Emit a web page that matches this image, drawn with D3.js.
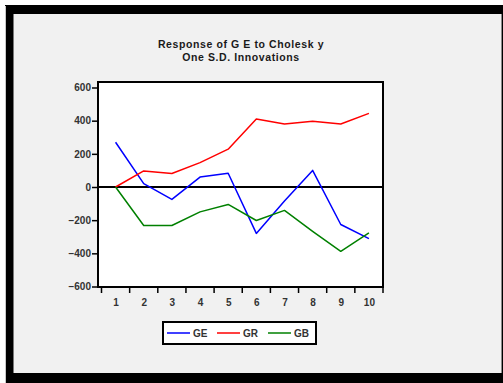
<!DOCTYPE html>
<html>
<head>
<meta charset="utf-8">
<script src="https://cdn.jsdelivr.net/npm/d3@7"></script>
<style>
  html, body { margin: 0; padding: 0; background: #ffffff; }
  svg { display: block; font-family: "Liberation Sans", Arial, sans-serif; }
</style>
</head>
<body>
<svg id="chart" width="503" height="383"></svg>
<script>
// Impulse responses of GE to one S.D. shocks (Cholesky), periods 1..10
const periods = [1, 2, 3, 4, 5, 6, 7, 8, 9, 10];
const seriesNames = ["GE", "GR", "GB"];
const seriesColors = ["#0000ff", "#ff0000", "#008000"];
const geValues = [270, 20, -75, 60, 83, -280, -85, 100, -226, -311];
const grValues = [0, 97, 81, 147, 228, 410, 380, 396, 380, 444];
const gbValues = [0, -232, -232, -150, -105, -202, -141, -267, -388, -277];
const yTicks = [-600, -400, -200, 0, 200, 400, 600];
const titleLines = ["Response of G E to Cholesk y", "One S.D. Innovations"];

const seriesValues = [geValues, grValues, gbValues];

const svg = d3.select("#chart");

// window frame
svg.append("rect").attr("x", 0).attr("y", 0).attr("width", 503).attr("height", 383).attr("fill", "#ffffff");
svg.append("rect").attr("x", 5).attr("y", 5).attr("width", 498).attr("height", 378).attr("fill", "#000000");
svg.append("line").attr("x1", 5.5).attr("x2", 5.5).attr("y1", 6).attr("y2", 383).attr("stroke", "#c8c8c8").attr("stroke-width", 1);
svg.append("rect").attr("x", 13.5).attr("y", 14).attr("width", 488).attr("height", 359).attr("fill", "#f1f1f1");
svg.append("line").attr("x1", 501.5).attr("x2", 501.5).attr("y1", 14).attr("y2", 373).attr("stroke", "#8a8a8a").attr("stroke-width", 1);

// plot box
const box = { left: 98, right: 383, top: 82, bottom: 287 };

const x = d3.scaleLinear().domain([0.5, 10.5]).range([101.5, 383]);
const y = d3.scaleLinear().domain([-600, 600]).range([286.5, 87.5]);

svg.append("rect")
  .attr("x", box.left).attr("y", box.top)
  .attr("width", box.right - box.left).attr("height", box.bottom - box.top)
  .attr("fill", "#ffffff");

// title
const title = svg.append("text")
  .attr("x", 241).attr("y", 48)
  .attr("text-anchor", "middle")
  .attr("font-size", "10.5px").attr("font-weight", "bold")
  .attr("letter-spacing", "0.6px").attr("fill", "#1a1a1a");
titleLines.forEach((t, i) => {
  title.append("tspan").attr("x", 241).attr("dy", i === 0 ? 0 : 13).text(t);
});

// y axis
const yAxis = d3.axisLeft(y).tickValues(yTicks).tickSize(6).tickPadding(1).tickFormat(d3.format("d"));
const gy = svg.append("g").attr("transform", `translate(${box.left},0)`).call(yAxis);
gy.select(".domain").remove();
gy.selectAll(".tick line").attr("stroke", "#000").attr("stroke-width", 1.5);
gy.selectAll(".tick text").attr("font-size", "10px").attr("font-weight", "bold").attr("fill", "#333")
  .attr("font-family", "Liberation Sans, Arial, sans-serif");

// x axis: labels centred on periods, tick marks between them
const xAxis = d3.axisBottom(x).tickValues(periods).tickSize(0).tickPadding(12).tickFormat(d3.format("d"));
const gx = svg.append("g").attr("transform", `translate(0,${box.bottom})`).call(xAxis);
gx.select(".domain").remove();
gx.selectAll(".tick text").attr("font-size", "10px").attr("font-weight", "bold").attr("fill", "#333")
  .attr("font-family", "Liberation Sans, Arial, sans-serif");
const boundaries = periods.map(p => p - 0.5).concat([periods[periods.length - 1] + 0.5]);
svg.append("g").selectAll("line").data(boundaries).join("line")
  .attr("x1", d => x(d)).attr("x2", d => x(d))
  .attr("y1", box.bottom).attr("y2", box.bottom + 6)
  .attr("stroke", "#000").attr("stroke-width", 1.5);

// zero line
svg.append("line")
  .attr("x1", box.left).attr("x2", box.right)
  .attr("y1", y(0)).attr("y2", y(0))
  .attr("stroke", "#000").attr("stroke-width", 2);

// response lines
const line = d3.line().x((d, i) => x(periods[i])).y(d => y(d));
seriesValues.forEach((vals, k) => {
  svg.append("path")
    .datum(vals)
    .attr("d", line)
    .attr("fill", "none")
    .attr("stroke", seriesColors[k])
    .attr("stroke-width", 1.5)
    .attr("stroke-linejoin", "round");
});

// plot border
svg.append("rect")
  .attr("x", box.left).attr("y", box.top)
  .attr("width", box.right - box.left).attr("height", box.bottom - box.top)
  .attr("fill", "none").attr("stroke", "#000").attr("stroke-width", 2);

// legend
const legend = svg.append("g");
legend.append("rect")
  .attr("x", 163).attr("y", 322).attr("width", 153).attr("height", 22)
  .attr("fill", "#ffffff").attr("stroke", "#000").attr("stroke-width", 2);
const itemX = [167, 217, 268];
seriesNames.forEach((name, k) => {
  legend.append("line")
    .attr("x1", itemX[k]).attr("x2", itemX[k] + 23)
    .attr("y1", 333).attr("y2", 333)
    .attr("stroke", seriesColors[k]).attr("stroke-width", 1.5);
  legend.append("text")
    .attr("x", itemX[k] + 26).attr("y", 336.5)
    .attr("font-size", "10px").attr("font-weight", "bold").attr("fill", "#333")
    .text(name);
});
</script>
</body>
</html>
